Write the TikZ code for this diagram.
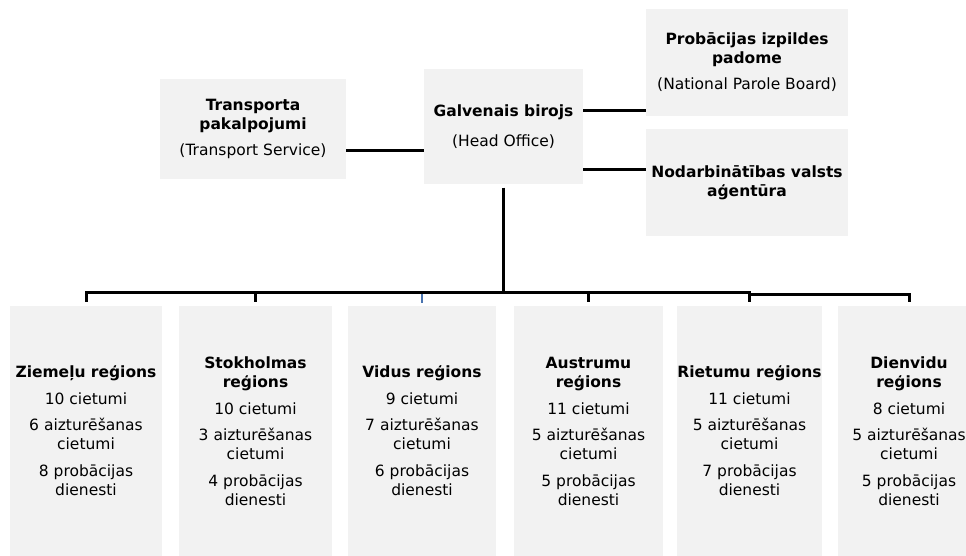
\documentclass[tikz,border=0pt]{standalone}
\usepackage{fontspec}
\setmainfont{DejaVu Sans}
\definecolor{boxgray}{HTML}{F2F2F2}
\definecolor{tickblue}{HTML}{4A74B0}
\begin{document}
\begin{tikzpicture}[x=1pt,y=-1pt,
  box/.style={fill=boxgray,draw=none,inner sep=0pt,align=center,
    font=\fontsize{15.5}{19}\selectfont},
  conn/.style={line width=3pt,draw=black},
  bluetick/.style={line width=2.2pt,draw=tickblue}]
\useasboundingbox (0,0) rectangle (966,556);
\clip (0,0) rectangle (966,556);
% top boxes
\node[box,minimum width=186pt,minimum height=100pt] (trans) at (253,129)
  {\textbf{Transporta}\\\textbf{pakalpojumi}\\[7pt](Transport Service)};
\node[box,minimum width=159pt,minimum height=115pt] (head) at (503.5,127)
  {\textbf{Galvenais birojs}\\[11pt](Head Office)};
\node[box,minimum width=202pt,minimum height=107pt] (parole) at (747,62.5)
  {\textbf{Probācijas izpildes}\\\textbf{padome}\\[7pt](National Parole Board)};
\node[box,minimum width=202pt,minimum height=107pt] (agency) at (747,182.5)
  {\textbf{Nodarbinātības valsts}\\\textbf{aģentūra}};
% region boxes
\node[box,minimum width=152pt,minimum height=250pt] (r1) at (86,431)
  {\textbf{Ziemeļu reģions}\\[8pt]10 cietumi\\[7pt]6 aizturēšanas\\cietumi\\[8pt]8 probācijas\\dienesti};
\node[box,minimum width=153pt,minimum height=250pt] (r2) at (255.5,431)
  {\textbf{Stokholmas}\\\textbf{reģions}\\[8pt]10 cietumi\\[7pt]3 aizturēšanas\\cietumi\\[8pt]4 probācijas\\dienesti};
\node[box,minimum width=148pt,minimum height=250pt] (r3) at (422,431)
  {\textbf{Vidus reģions}\\[8pt]9 cietumi\\[7pt]7 aizturēšanas\\cietumi\\[8pt]6 probācijas\\dienesti};
\node[box,minimum width=149pt,minimum height=250pt] (r4) at (588.5,431)
  {\textbf{Austrumu}\\\textbf{reģions}\\[8pt]11 cietumi\\[7pt]5 aizturēšanas\\cietumi\\[8pt]5 probācijas\\dienesti};
\node[box,minimum width=145pt,minimum height=250pt] (r5) at (749.5,431)
  {\textbf{Rietumu reģions}\\[8pt]11 cietumi\\[7pt]5 aizturēšanas\\cietumi\\[8pt]7 probācijas\\dienesti};
\node[box,minimum width=142pt,minimum height=250pt] (r6) at (909,431)
  {\textbf{Dienvidu}\\\textbf{reģions}\\[8pt]8 cietumi\\[7pt]5 aizturēšanas\\cietumi\\[8pt]5 probācijas\\dienesti};
% connectors top
\draw[conn] (trans.east |- 0,151) -- (head.west |- 0,151);
\draw[conn] (head.east |- 0,111) -- (parole.west |- 0,111);
\draw[conn] (head.east |- 0,170) -- (agency.west |- 0,170);
\draw[conn] ([yshift=-3pt]head.south) -- (head.south |- 0,293);
% bus
\draw[conn] ([yshift=4pt]r1.north) -- (r1.north |- 0,292.5) -- (r5.north |- 0,292.5) -- ([yshift=4pt]r5.north);
\draw[conn] (r5.north |- 0,294) -- (r6.north |- 0,294) -- ([yshift=4pt]r6.north);
\draw[conn] (r2.north |- 0,292.5) -- ([yshift=4pt]r2.north);
\draw[conn] (r4.north |- 0,292.5) -- ([yshift=4pt]r4.north);
\draw[bluetick] (r3.north |- 0,294) -- ([yshift=3pt]r3.north);
\end{tikzpicture}
\end{document}
